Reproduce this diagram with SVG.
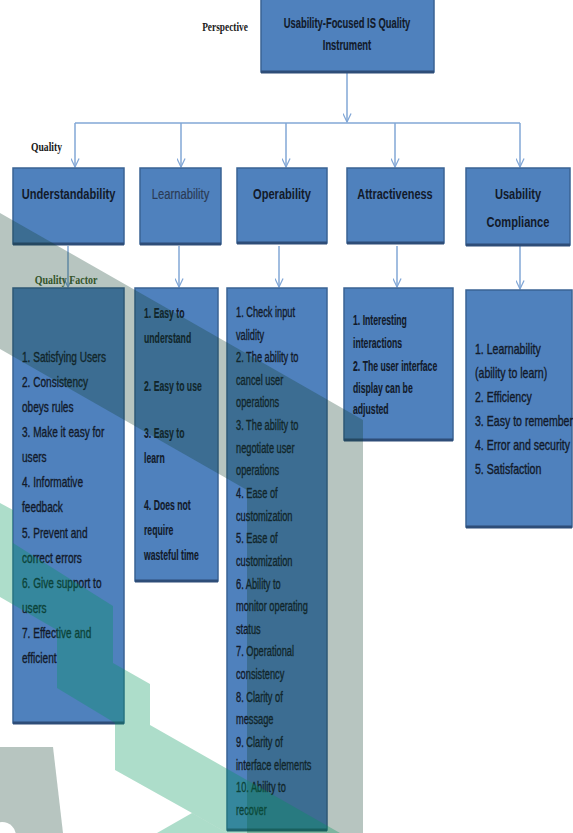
<svg xmlns="http://www.w3.org/2000/svg" width="573" height="833" viewBox="0 0 573 833">
<style>
.box{fill:#4f81bd;stroke:#3a6394;stroke-width:1.5}
.edge{stroke:#2e4d78;stroke-width:3}
.t{font-family:"Liberation Sans",Arial,sans-serif;fill:#121a2a}
.ttl{font-size:15px;font-weight:bold}
.it{font-size:14px;stroke:#121a2a;stroke-width:0.35}
.b{font-weight:bold;stroke-width:0.15}
.lbl{font-family:"Liberation Serif","Times New Roman",serif;font-weight:bold;font-size:12px;fill:#1a1a1a}
.con{fill:none;stroke:#82a7d6;stroke-width:1.5}
.gray{fill:rgb(18,62,45);fill-opacity:0.3}
.grn{fill:rgb(0,150,90);fill-opacity:0.32}
</style>
<defs>
<marker id="arr" viewBox="0 0 10 10" refX="9.5" refY="5" markerWidth="10" markerHeight="9" orient="auto" markerUnits="userSpaceOnUse">
<path d="M0,0.5 L9.5,5 L0,9.5" fill="none" stroke="#82a7d6" stroke-width="1.4"/>
</marker>
</defs>
<rect width="573" height="833" fill="#ffffff"/>

<text class="lbl" transform="translate(225 31) scale(0.78 1)" text-anchor="middle">Perspective</text>
<text class="lbl" transform="translate(46.5 151) scale(0.8 1)" text-anchor="middle">Quality</text>

<g id="connectors">
<path class="con" d="M347,73 V122" marker-end="url(#arr)"/>
<path class="con" d="M75,123 H520"/>
<path class="con" d="M75,123 V167" marker-end="url(#arr)"/>
<path class="con" d="M181,123 V167" marker-end="url(#arr)"/>
<path class="con" d="M286,123 V167" marker-end="url(#arr)"/>
<path class="con" d="M395,123 V167" marker-end="url(#arr)"/>
<path class="con" d="M520,123 V167" marker-end="url(#arr)"/>
<path class="con" d="M68,246 V287" marker-end="url(#arr)"/>
<path class="con" d="M179,246 V287" marker-end="url(#arr)"/>
<path class="con" d="M279,246 V287" marker-end="url(#arr)"/>
<path class="con" d="M397,246 V287" marker-end="url(#arr)"/>
<path class="con" d="M520,246 V289" marker-end="url(#arr)"/>
</g>

<g id="root">
<rect class="box" x="261" y="-2" width="173" height="74"/>
<line class="edge" x1="261" y1="72" x2="434" y2="72"/>
<text class="t it b" transform="translate(347 28) scale(0.67 1)" text-anchor="middle">Usability-Focused IS Quality</text>
<text class="t it b" transform="translate(347 50) scale(0.67 1)" text-anchor="middle">Instrument</text>
</g>

<g id="understandability">
<rect class="box" x="13" y="168" width="111" height="76"/>
<line class="edge" x1="13" y1="244" x2="124" y2="244"/>
<text class="t ttl" transform="translate(68.5 199) scale(0.74 1)" text-anchor="middle">Understandability</text>
</g>
<g id="learnability">
<rect class="box" x="140" y="168" width="81" height="76"/>
<line class="edge" x1="140" y1="244" x2="221" y2="244"/>
<text class="t" style="font-size:15px;fill:#2b3b55;stroke:#2b3b55;stroke-width:0.2" transform="translate(180.5 199) scale(0.75 1)" text-anchor="middle">Learnability</text>
</g>
<g id="operability">
<rect class="box" x="237" y="168" width="90" height="75"/>
<line class="edge" x1="237" y1="243" x2="327" y2="243"/>
<text class="t ttl" transform="translate(282 199) scale(0.74 1)" text-anchor="middle">Operability</text>
</g>
<g id="attractiveness">
<rect class="box" x="347" y="168" width="97" height="75"/>
<line class="edge" x1="347" y1="243" x2="444" y2="243"/>
<text class="t ttl" transform="translate(395 199) scale(0.73 1)" text-anchor="middle">Attractiveness</text>
</g>
<g id="compliance">
<rect class="box" x="466" y="168" width="104" height="77"/>
<line class="edge" x1="466" y1="245" x2="570" y2="245"/>
<text class="t ttl" transform="translate(518 199) scale(0.74 1)" text-anchor="middle">Usability</text>
<text class="t ttl" transform="translate(518 227) scale(0.74 1)" text-anchor="middle">Compliance</text>
</g>

<text class="lbl" style="fill:#45602a" transform="translate(66 284) scale(0.83 1)" text-anchor="middle">Quality  Factor</text>

<g id="understandability-factors">
<rect class="box" x="13" y="288" width="111" height="435"/>
<line class="edge" x1="13" y1="723" x2="124" y2="723"/>
<g class="t it" transform="translate(22 0) scale(0.72 1)">
<text y="362">1. Satisfying  Users</text>
<text y="387">2. Consistency</text>
<text y="412">obeys rules</text>
<text y="437">3. Make  it easy for</text>
<text y="462">users</text>
<text y="487">4. Informative</text>
<text y="512">feedback</text>
<text y="538">5. Prevent and</text>
<text y="563">correct errors</text>
<text y="588">6. Give support to</text>
<text y="613">users</text>
<text y="638">7. Effective and</text>
<text y="663">efficient</text>
</g>
</g>

<g id="learnability-factors">
<rect class="box" x="135" y="288" width="83" height="293"/>
<line class="edge" x1="135" y1="581" x2="218" y2="581"/>
<g class="t it b" transform="translate(144 0) scale(0.62 1)">
<text y="318">1. Easy to</text>
<text y="343">understand</text>
<text y="391">2. Easy to use</text>
<text y="438">3. Easy to</text>
<text y="463">learn</text>
<text y="510">4. Does not</text>
<text y="535">require</text>
<text y="560">wasteful time</text>
</g>
</g>

<g id="operability-factors">
<rect class="box" x="227" y="288" width="100" height="542"/>
<line class="edge" x1="227" y1="830" x2="327" y2="830"/>
<g class="t it" transform="translate(236 0) scale(0.66 1)">
<text y="317">1. Check input</text>
<text y="339.6">validity</text>
<text y="362.3">2. The ability to</text>
<text y="384.9">cancel user</text>
<text y="407.5">operations</text>
<text y="430.2">3. The ability to</text>
<text y="452.8">negotiate user</text>
<text y="475.5">operations</text>
<text y="498.1">4. Ease of</text>
<text y="520.7">customization</text>
<text y="543.4">5. Ease of</text>
<text y="566">customization</text>
<text y="588.6">6. Ability to</text>
<text y="611.3">monitor operating</text>
<text y="633.9">status</text>
<text y="656.5">7. Operational</text>
<text y="679.2">consistency</text>
<text y="701.8">8. Clarity of</text>
<text y="724.5">message</text>
<text y="747.1">9. Clarity of</text>
<text y="769.7">interface elements</text>
<text y="792.4">10. Ability to</text>
<text y="815">recover</text>
</g>
</g>

<g id="attractiveness-factors">
<rect class="box" x="344" y="288" width="109" height="152"/>
<line class="edge" x1="344" y1="440" x2="453" y2="440"/>
<g class="t it b" transform="translate(353 0) scale(0.62 1)">
<text y="325">1. Interesting</text>
<text y="348">interactions</text>
<text y="371">2. The user interface</text>
<text y="393">display can be</text>
<text y="414">adjusted</text>
</g>
</g>

<g id="compliance-factors">
<rect class="box" x="466" y="290" width="106" height="237"/>
<line class="edge" x1="466" y1="527" x2="572" y2="527"/>
<g class="t it" transform="translate(475 0) scale(0.755 1)">
<text y="354">1. Learnability</text>
<text y="378">(ability to learn)</text>
<text y="402">2. Efficiency</text>
<text y="426">3. Easy to remember</text>
<text y="450">4. Error and security</text>
<text y="474">5. Satisfaction</text>
</g>
</g>

<g id="background-shapes">
<polygon class="gray" points="0,213 363,420 363,833 247,833 247,490 0,349"/>
<polygon class="gray" points="0,747 53,747 63,833 0,833"/>
<circle cx="2" cy="836" r="14" fill="#ffffff"/>
<polygon class="grn" points="0,503 13,510 13,543 113,606 113,663 150,684 150,725 340,833 227,833 192,813 115,770 115,723 57,688 57,630 0,597"/>
<polygon class="grn" points="157,833 192,813 227,833"/>
</g>
</svg>
